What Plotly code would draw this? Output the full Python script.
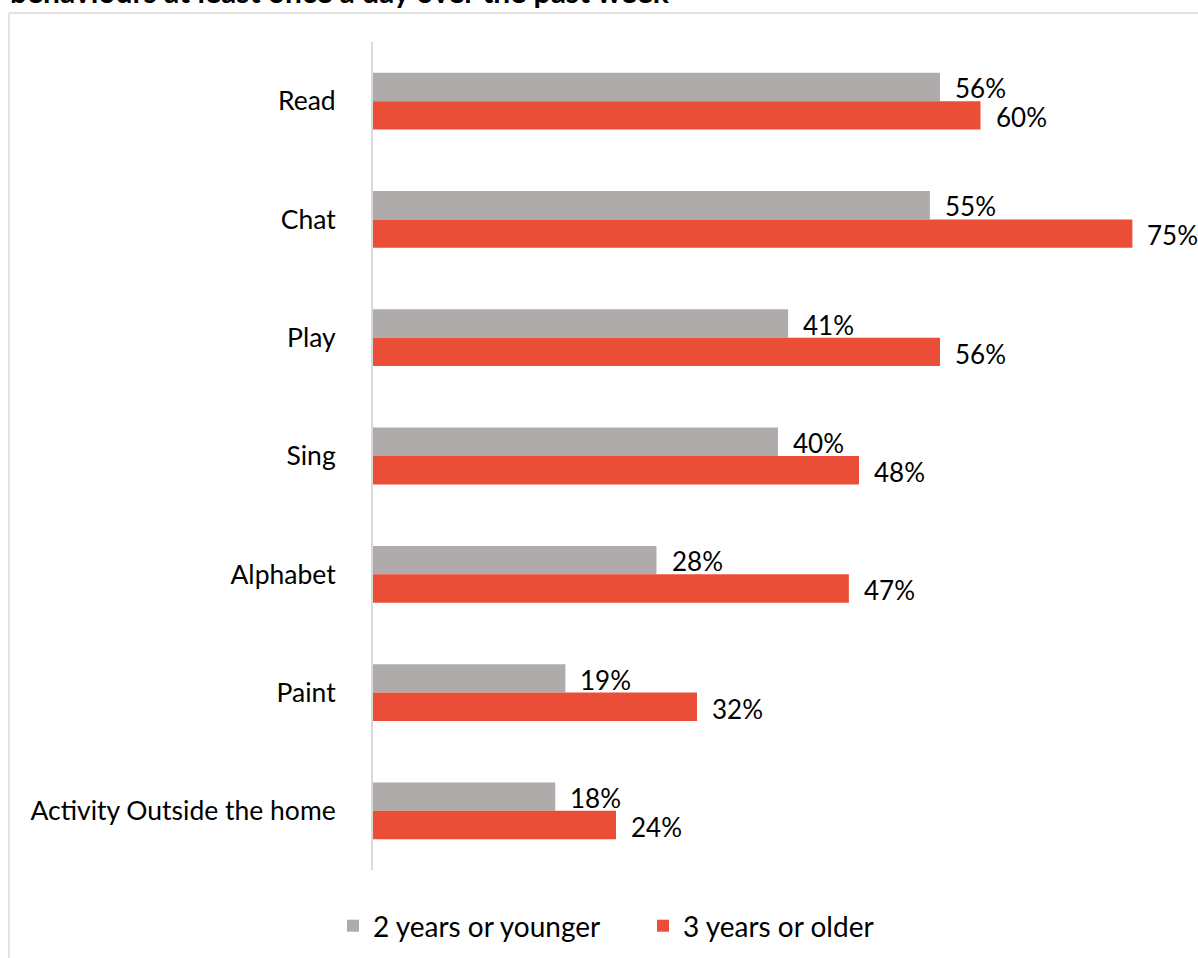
import plotly.graph_objects as go

# Daily home-learning activities by child age group
categories = ["Read", "Chat", "Play", "Sing", "Alphabet", "Paint", "Activity Outside the home"]
younger = [56, 55, 41, 40, 28, 19, 18]
older = [60, 75, 56, 48, 47, 32, 24]
series_names = ["2 years or younger", "3 years or older"]
title_text = "behaviours at least once a day over the past week"

GREY = "#AFABAB"
RED = "#EB4E36"
FONT = "Lato"
LABEL_SIZE = 26.5
VALUE_SIZE = 26

W, H = 1198, 958
x0, x1 = 373, 1183   # plot area left/right in px
y_top, y_bot = 42, 870  # plot area top/bottom in px
XMAX = 80

fig = go.Figure()
fig.add_trace(go.Bar(y=categories, x=younger, name=series_names[0], orientation="h",
                     marker=dict(color=GREY, line=dict(width=0))))
fig.add_trace(go.Bar(y=categories, x=older, name=series_names[1], orientation="h",
                     marker=dict(color=RED, line=dict(width=0))))

annotations = []
for cat, a, b in zip(categories, younger, older):
    annotations.append(dict(x=a, y=cat, xref="x", yref="y", text=f"{a}%", showarrow=False,
                            xanchor="left", yanchor="middle", xshift=13, yshift=13,
                            font=dict(family=FONT, size=VALUE_SIZE, color="#000000")))
    annotations.append(dict(x=b, y=cat, xref="x", yref="y", text=f"{b}%", showarrow=False,
                            xanchor="left", yanchor="middle", xshift=13, yshift=-16,
                            font=dict(family=FONT, size=VALUE_SIZE, color="#000000")))

annotations.append(dict(x=8 / W, y=1 - 11 / H, xref="paper", yref="paper", text=f"<b>{title_text}</b>",
                        showarrow=False, xanchor="left", yanchor="bottom",
                        font=dict(family=FONT, size=30, color="#000000")))

shapes = [
    # outer frame (top and left edges)
    dict(type="line", xref="paper", yref="paper", x0=9 / W, x1=1.0, y0=1 - 13 / H, y1=1 - 13 / H,
         line=dict(color="#D9D9D9", width=1.5)),
    dict(type="line", xref="paper", yref="paper", x0=9 / W, x1=9 / W, y0=0, y1=1 - 13 / H,
         line=dict(color="#D9D9D9", width=1.5)),
]

fig.update_layout(
    width=W, height=H,
    margin=dict(l=0, r=0, t=0, b=0),
    paper_bgcolor="white", plot_bgcolor="white",
    barmode="group", bargap=0.52, bargroupgap=0,
    xaxis=dict(domain=[x0 / W, x1 / W], range=[0, XMAX], showgrid=False, zeroline=False,
               showticklabels=False, showline=False),
    yaxis=dict(domain=[1 - y_bot / H, 1 - y_top / H], autorange="reversed", showgrid=False,
               showline=True, linecolor="#D9D9D9", linewidth=2, ticks="", ticklabelstandoff=30,
               tickfont=dict(family=FONT, size=LABEL_SIZE, color="#000000")),
    legend=dict(orientation="h", x=333 / W, xanchor="left", y=1 - 926 / H, yanchor="middle",
                font=dict(family=FONT, size=28, color="#000000"), entrywidth=265,
                traceorder="normal"),
    annotations=annotations,
    shapes=shapes,
    showlegend=True,
)

fig.write_html("out.html")
